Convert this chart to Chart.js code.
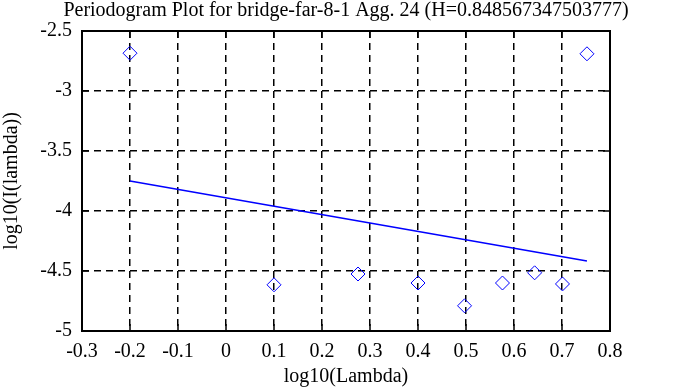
<!DOCTYPE html>
<html>
<head>
<meta charset="utf-8">
<script src="https://cdn.jsdelivr.net/npm/chart.js@4/dist/chart.umd.min.js"></script>
<style>
    html, body { margin: 0; padding: 0; background: #fff; }
    #wrap { width: 678px; height: 387px; position: relative; }
</style>
</head>
<body>
<div id="wrap"><canvas id="plot"></canvas></div>
<script>
const titleText = 'Periodogram Plot for bridge-far-8-1 Agg. 24 (H=0.848567347503777)';
const xLabel = 'log10(Lambda)';
const yLabel = 'log10(I(lambda))';

// periodogram points
const logLambda = [-0.2, 0.1, 0.275, 0.4, 0.497, 0.576, 0.643, 0.701, 0.752];
const logI = [-2.685, -4.615, -4.525, -4.6, -4.79, -4.6, -4.515, -4.608, -2.69];

// least squares fit line ends
const fitX = [-0.2, 0.752];
const fitY = [-3.75, -4.417];

const xTicks = [-0.3, -0.2, -0.1, 0, 0.1, 0.2, 0.3, 0.4, 0.5, 0.6, 0.7, 0.8];
const yTicks = [-5, -4.5, -4, -3.5, -3, -2.5];

const serif = '"Liberation Serif", "DejaVu Serif", serif';

// gnuplot-like frame, inward ticks and the title
const framePlugin = {
    id: 'frame',
    afterDraw(chart) {
        const { ctx, chartArea: a, scales } = chart;
        ctx.save();
        ctx.strokeStyle = '#000';
        ctx.lineWidth = 1.5;
        ctx.beginPath();
        xTicks.forEach((v) => {
            const px = Math.round(scales.x.getPixelForValue(v));
            ctx.moveTo(px, a.bottom); ctx.lineTo(px, a.bottom - 7);
            ctx.moveTo(px, a.top); ctx.lineTo(px, a.top + 7);
        });
        yTicks.forEach((v) => {
            const py = Math.round(scales.y.getPixelForValue(v));
            ctx.moveTo(a.left, py); ctx.lineTo(a.left + 7, py);
            ctx.moveTo(a.right, py); ctx.lineTo(a.right - 7, py);
        });
        ctx.stroke();
        ctx.lineWidth = 2;
        ctx.strokeRect(a.left, a.top, a.right - a.left, a.bottom - a.top);
        ctx.fillStyle = '#000';
        ctx.font = '20px ' + serif;
        ctx.textAlign = 'center';
        ctx.textBaseline = 'middle';
        ctx.fillText(titleText, (a.left + a.right) / 2, 11);
        ctx.restore();
    },
};

new Chart(document.getElementById('plot'), {
    type: 'scatter',
    data: {
        datasets: [
            {
                label: 'periodogram',
                data: logLambda.map((x, i) => ({ x, y: logI[i] })),
                pointStyle: 'rectRot',
                pointRadius: 7,
                borderColor: '#0000ff',
                backgroundColor: 'rgba(0,0,0,0)',
                borderWidth: 1,
            },
            {
                label: 'fit',
                data: fitX.map((x, i) => ({ x, y: fitY[i] })),
                showLine: true,
                pointRadius: 0,
                borderColor: '#0000ff',
                borderWidth: 1.5,
            },
        ],
    },
    options: {
        responsive: true,
        maintainAspectRatio: false,
        animation: false,
        layout: { padding: { top: 31, right: 68, left: 0, bottom: 0 } },
        plugins: {
            legend: { display: false },
            tooltip: { enabled: false },
        },
        scales: {
            x: {
                type: 'linear',
                min: -0.3,
                max: 0.8,
                afterFit(s) { s.height = 56; },
                afterBuildTicks(s) { s.ticks = xTicks.map((value) => ({ value })); },
                grid: { color: '#000', lineWidth: 1.5, drawTicks: false },
                border: { display: false, dash: [7, 5] },
                ticks: {
                    color: '#000',
                    padding: 9,
                    maxRotation: 0,
                    font: { family: serif, size: 20 },
                    callback: (v) => String(Math.round(v * 10) / 10),
                },
                title: {
                    display: true,
                    text: xLabel,
                    color: '#000',
                    padding: { top: 0, bottom: -2 },
                    font: { family: serif, size: 20 },
                },
            },
            y: {
                type: 'linear',
                min: -5,
                max: -2.5,
                afterFit(s) { s.width = 82; },
                afterBuildTicks(s) { s.ticks = yTicks.map((value) => ({ value })); },
                grid: { color: '#000', lineWidth: 1.5, drawTicks: false },
                border: { display: false, dash: [7, 5] },
                ticks: {
                    color: '#000',
                    padding: 10,
                    font: { family: serif, size: 20 },
                    callback: (v) => String(Math.round(v * 10) / 10),
                },
                title: {
                    display: true,
                    text: yLabel,
                    color: '#000',
                    padding: { top: 0, bottom: 0 },
                    font: { family: serif, size: 20 },
                },
            },
        },
    },
    plugins: [framePlugin],
});
</script>
</body>
</html>
